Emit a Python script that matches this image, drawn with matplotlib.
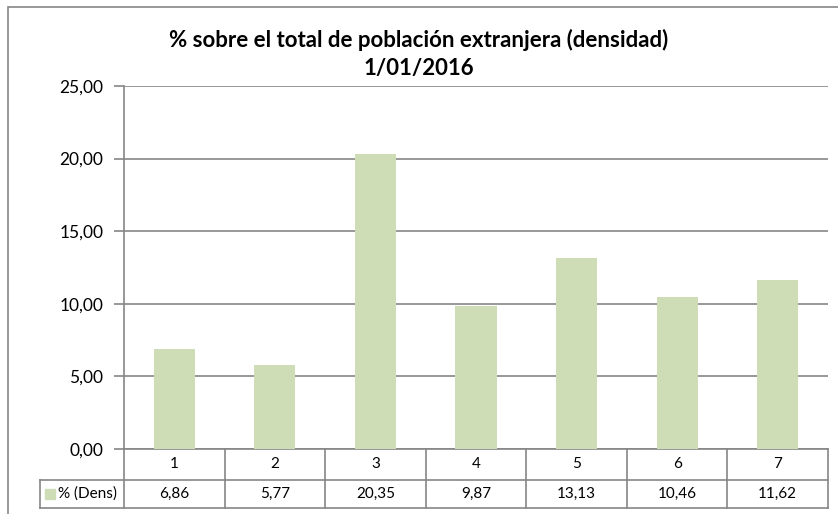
import matplotlib.pyplot as plt
from matplotlib.patches import Rectangle

# datos
categorias = ["1", "2", "3", "4", "5", "6", "7"]
valores = [6.86, 5.77, 20.35, 9.87, 13.13, 10.46, 11.62]
etiquetas_valores = ["6,86", "5,77", "20,35", "9,87", "13,13", "10,46", "11,62"]
marcas_y = [0, 5, 10, 15, 20, 25]
serie = "% (Dens)"
titulo = "% sobre el total de población extranjera (densidad)\n1/01/2016"

plt.rcParams['font.family'] = ['Lato', 'DejaVu Sans']

W, H = 838, 514
color_barra = "#CFDDB7"
gris = "#868686"

fig = plt.figure(figsize=(W / 100, H / 100), dpi=100)

# borde exterior del gráfico
fig.patches.append(Rectangle((8 / W, -0.1), 1.2, 1 - 7 / H + 0.1,
                             transform=fig.transFigure, fill=False,
                             edgecolor=gris, lw=1.2))

x0, x1, y_top, y_cero = 124, 828, 86, 449
ax = fig.add_axes([x0 / W, 1 - y_cero / H, (x1 - x0) / W, (y_cero - y_top) / H])

pos = range(len(categorias))
ax.bar(pos, valores, width=0.41, color=color_barra, zorder=3)

ax.set_xlim(-0.5, len(categorias) - 0.5)
ax.set_ylim(0, 25)
ax.set_yticks(marcas_y)
ax.set_yticklabels([("%.2f" % v).replace(".", ",") for v in marcas_y])
ax.tick_params(axis='y', length=7, width=1.2, color=gris, pad=8, labelsize=12.5)
ax.set_xticks([])
ax.grid(axis='y', color=gris, lw=1.2, zorder=0)
for s in ['top', 'right', 'bottom']:
    ax.spines[s].set_visible(False)
ax.spines['left'].set_color(gris)
ax.spines['left'].set_linewidth(1.2)

fig.text(0.5, 1 - 54 / H, titulo, ha='center', va='center',
         fontsize=16, fontweight='bold', linespacing=1.45)

# tabla de datos bajo el eje
altura = y_cero - y_top
f1 = -31 / altura
f2 = -59 / altura
n = len(categorias)
xleg = (40 - x0) / (x1 - x0) * n - 0.5
tr = ax.get_xaxis_transform()
kw = dict(transform=tr, clip_on=False, color=gris, lw=1.2)
ax.plot([-0.5, n - 0.5], [0, 0], **kw)
ax.plot([xleg, n - 0.5], [f1, f1], **kw)
ax.plot([xleg, n - 0.5], [f2, f2], **kw)
ax.plot([xleg, xleg], [f1, f2], **kw)
for i in range(n + 1):
    ax.plot([i - 0.5, i - 0.5], [0, f2], **kw)

for i, c in enumerate(categorias):
    ax.text(i, f1 / 2, c, transform=tr, ha='center', va='center', fontsize=11)
    ax.text(i, (f1 + f2) / 2, etiquetas_valores[i], transform=tr,
            ha='center', va='center', fontsize=11)

ax.add_patch(Rectangle((xleg + 0.05, (f1 + f2) / 2 - 0.013), 0.1, 0.026,
                       transform=tr, clip_on=False, color=color_barra))
ax.text(xleg + 0.18, (f1 + f2) / 2, serie, transform=tr, ha='left',
        va='center', fontsize=11)

fig.savefig("out.png", dpi=100)
